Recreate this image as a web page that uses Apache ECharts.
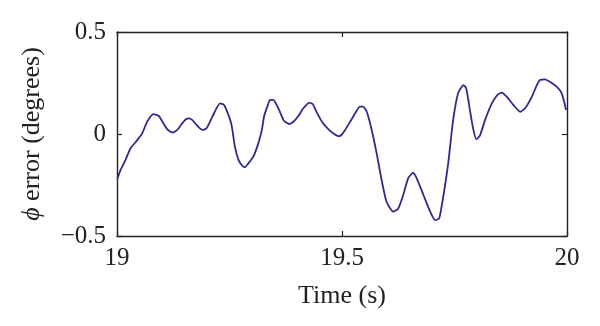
<!DOCTYPE html>
<html><head><meta charset="utf-8">
<script src="https://cdn.jsdelivr.net/npm/echarts@6/dist/echarts.min.js"></script>
<style>html,body{margin:0;padding:0;background:#fff}#c{width:600px;height:326px}</style>
</head><body><div id="c"></div>
<script>
const timeS = [19.0007,19.008,19.019,19.030,19.045,19.056,19.067,19.081,19.093,19.101,19.112,19.123,19.134,19.142,19.153,19.160,19.167,19.177,19.190,19.199,19.212,19.229,19.238,19.249,19.255,19.262,19.270,19.277,19.284,19.292,19.303,19.314,19.322,19.327,19.334,19.340,19.347,19.355,19.362,19.371,19.383,19.392,19.403,19.414,19.427,19.435,19.445,19.457,19.470,19.481,19.492,19.499,19.507,19.518,19.529,19.540,19.547,19.555,19.566,19.577,19.588,19.599,19.614,19.625,19.636,19.647,19.658,19.666,19.681,19.696,19.707,19.716,19.725,19.736,19.747,19.758,19.770,19.776,19.783,19.792,19.799,19.807,19.818,19.833,19.845,19.855,19.866,19.881,19.896,19.907,19.922,19.933,19.940,19.951,19.962,19.977,19.988,19.998];
const phiError = [-0.22,-0.176,-0.127,-0.07,-0.03,0.003,0.06,0.097,0.088,0.06,0.023,0.007,0.02,0.044,0.072,0.077,0.069,0.044,0.02,0.028,0.085,0.15,0.142,0.085,0.04,-0.062,-0.127,-0.152,-0.163,-0.144,-0.111,-0.046,0.02,0.088,0.134,0.167,0.167,0.142,0.109,0.065,0.049,0.06,0.088,0.126,0.153,0.147,0.101,0.055,0.023,0.003,-0.01,-0.005,0.02,0.06,0.101,0.134,0.134,0.109,0.02,-0.095,-0.225,-0.332,-0.381,-0.365,-0.299,-0.217,-0.19,-0.217,-0.299,-0.381,-0.422,-0.413,-0.307,-0.144,0.069,0.2,0.24,0.224,0.134,0.02,-0.026,-0.005,0.069,0.15,0.191,0.203,0.183,0.142,0.109,0.126,0.183,0.24,0.265,0.268,0.256,0.232,0.2,0.118];
const xTicks = [19, 19.5, 20];
const yTicks = [-0.5, 0, 0.5];

const font = '"Liberation Serif","DejaVu Serif",serif';
const fmt = v => String(v).replace('-', '\u2212');
const axLine = {show:true, onZero:false, lineStyle:{color:'#222', width:1.4}};
const tick = {show:true, inside:true, length:5, lineStyle:{color:'#222', width:1.2}};
const chart = echarts.init(document.getElementById('c'), null, {renderer:'canvas'});
chart.setOption({
  animation:false,
  grid:{left:117, right:33, top:32, bottom:90},
  xAxis:[
    {type:'value', min:19, max:20, interval:0.5, position:'bottom',
     axisLine:axLine, axisTick:tick, splitLine:{show:false},
     axisLabel:{fontFamily:font, fontSize:25, color:'#222', margin:10, formatter:v=>xTicks.includes(v)?fmt(v):''},
     name:'Time (s)', nameLocation:'middle', nameGap:47,
     nameTextStyle:{fontFamily:font, fontSize:26, color:'#222'}},
    {type:'value', min:19, max:20, interval:0.5, position:'top',
     axisLine:axLine, axisTick:tick, splitLine:{show:false}, axisLabel:{show:false}}
  ],
  yAxis:[
    {type:'value', min:-0.5, max:0.5, interval:0.5, position:'left',
     axisLine:axLine, axisTick:tick, splitLine:{show:false},
     axisLabel:{fontFamily:font, fontSize:25, color:'#222', margin:11, formatter:v=>yTicks.includes(v)?fmt(v):''},
     name:'{i|\u03d5} error (degrees)', nameLocation:'middle', nameGap:72, nameRotate:90,
     nameTextStyle:{fontFamily:font, fontSize:26, color:'#222',
       rich:{i:{fontFamily:font, fontSize:26, fontStyle:'italic', color:'#222'}}}},
    {type:'value', min:-0.5, max:0.5, interval:0.5, position:'right',
     axisLine:axLine, axisTick:tick, splitLine:{show:false}, axisLabel:{show:false}}
  ],
  series:[{
    type:'line', xAxisIndex:0, yAxisIndex:0, showSymbol:false, smooth:0.2,
    data: timeS.map((t,i)=>[t, phiError[i]]),
    lineStyle:{color:'#2e2b8c', width:1.8}
  }]
});
</script></body></html>
